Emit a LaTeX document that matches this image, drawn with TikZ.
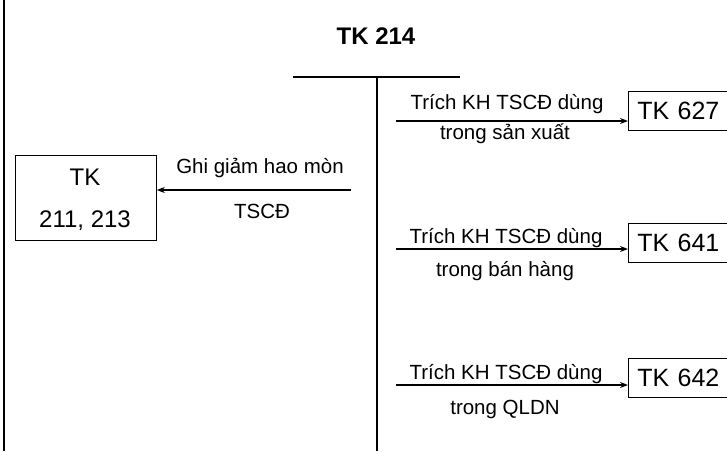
\documentclass[tikz,border=0pt]{standalone}
\usepackage{fontspec}
\setmainfont{Liberation Sans}
\usetikzlibrary{arrows.meta,positioning}

\begin{document}
\begin{tikzpicture}[
  x=1pt, y=-1pt,
  lbl/.style={font=\fontsize{20.5}{24}\selectfont, inner sep=1pt},
  acct/.style={draw, line width=0.8pt, font=\fontsize{25}{29}\selectfont,
               anchor=north west, inner xsep=9pt, text width=110pt,
               minimum height=39pt, align=left},
  arr/.style={-{Stealth[length=8pt, width=6pt]}, line width=1.5pt},
  tline/.style={line width=2.6pt}
]
\clip (0,0) rectangle (727,451);
\draw[line width=1.8pt] (4,0) -- (4,451);
\node[font=\fontsize{24}{28}\selectfont\bfseries] (title) at (376,36) {TK 214};
\draw[tline] (293,77) -- (460,77);
\draw[tline] (377,77) -- (377,451);
\node[acct] (tk627) at (628,91) {TK 627};
\node[acct] (tk641) at (628,223) {TK 641};
\node[acct] (tk642) at (628,358) {TK 642};
\node[draw, line width=0.8pt, minimum width=141pt, minimum height=85pt,
      anchor=north west] (tk211) at (15,155) {};
\node[font=\fontsize{24}{28}\selectfont] (tk211a) at (85,177) {TK};
\node[font=\fontsize{24}{28}\selectfont] (tk211b) at (85,221) {211, 213};
\coordinate (a1) at (396,121);
\coordinate (a2) at (396,249);
\coordinate (a3) at (396,385);
\coordinate (g1) at (351,190);
\draw[arr] (a1) -- (a1 -| tk627.west);
\draw[arr] (a2) -- (a2 -| tk641.west);
\draw[arr] (a3) -- (a3 -| tk642.west);
\draw[arr] (g1) -- (g1 -| tk211.east);
\node[lbl] (t1a) at (507,104) {Trích KH TSCĐ dùng};
\node[lbl] (t1b) at (505,134) {trong sản xuất};
\node[lbl] (t2a) at (506,238) {Trích KH TSCĐ dùng};
\node[lbl] (t2b) at (505,271) {trong bán hàng};
\node[lbl] (t3a) at (506,374) {Trích KH TSCĐ dùng};
\node[lbl] (t3b) at (505,409) {trong QLDN};
\node[lbl] (g1a) at (260,168) {Ghi giảm hao mòn};
\node[lbl] (g1b) at (262,211) {TSCĐ};
\end{tikzpicture}
\end{document}
